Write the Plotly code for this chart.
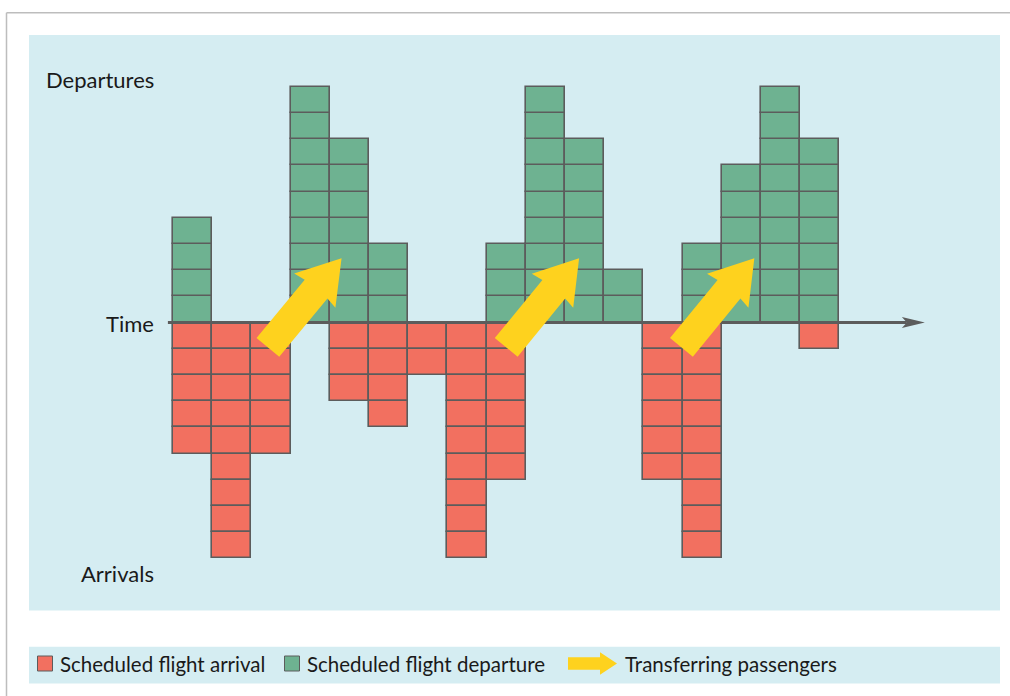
import plotly.graph_objects as go

# ---------------- data ----------------
columns = list(range(17))                     # time slots
departures = [4, 0, 0, 9, 7, 3, 0, 0, 3, 9, 7, 2, 0, 3, 6, 9, 7]
arrivals   = [5, 9, 5, 0, 3, 4, 2, 9, 6, 0, 0, 0, 6, 9, 0, 0, 1]

# transfer arrows (tail -> tip) in data units
arrow_tail_x = [1.92, 8.00, 12.47]
arrow_tail_y = [-0.95, -0.95, -0.95]
arrow_tip_x  = [3.80, 9.86, 14.33]
arrow_tip_y  = [2.45, 2.45, 2.45]

label_departures = "Departures"
label_time = "Time"
label_arrivals = "Arrivals"
legend_labels = ["Scheduled flight arrival", "Scheduled flight departure", "Transferring passengers"]

# ---------------- style ----------------
W, H = 1010, 696
X0, CW = 173.0, 39.2      # px of first column left edge, px per column
Y0, UH = 322.5, 26.2      # px of time axis, px per block
RED = "#F27060"
GREEN = "#6EB291"
BG = "#D5EDF2"
YELLOW = "#FED21E"
EDGE = "#5C5C5C"
TEXT = "#1A1A1A"
FONT = "Lato"

def px_to_dx(px):
    return (px - X0) / CW - 0.5

def py_to_dy(py):
    return (Y0 - py) / UH

def dx_to_px(x):
    return X0 + CW * (x + 0.5)

def dy_to_py(y):
    return Y0 - UH * y

def pxp(px):  # pixel -> paper x
    return px / W

def pyp(py):  # pixel -> paper y
    return 1 - py / H

# ---------------- cells ----------------
dep_x, dep_base = [], []
for c, n in zip(columns, departures):
    for k in range(n):
        dep_x.append(c)
        dep_base.append(k)
arr_x, arr_base = [], []
for c, n in zip(columns, arrivals):
    for k in range(n):
        arr_x.append(c)
        arr_base.append(-(k + 1))

fig = go.Figure()
fig.add_trace(go.Bar(x=arr_x, y=[1] * len(arr_x), base=arr_base, width=1,
                     marker=dict(color=RED, line=dict(color=EDGE, width=1.6)),
                     name=legend_labels[0], showlegend=False, hoverinfo="skip"))
fig.add_trace(go.Bar(x=dep_x, y=[1] * len(dep_x), base=dep_base, width=1,
                     marker=dict(color=GREEN, line=dict(color=EDGE, width=1.6)),
                     name=legend_labels[1], showlegend=False, hoverinfo="skip"))

shapes = []
# frame lines
shapes.append(dict(type="line", xref="paper", yref="paper", x0=pxp(6.5), x1=pxp(W), y0=pyp(12.8), y1=pyp(12.8),
                   line=dict(color="#BDBDBD", width=1.5), layer="below"))
shapes.append(dict(type="line", xref="paper", yref="paper", x0=pxp(6.5), x1=pxp(6.5), y0=pyp(12.8), y1=pyp(H),
                   line=dict(color="#BDBDBD", width=1.5), layer="below"))
# backgrounds
shapes.append(dict(type="rect", xref="paper", yref="paper", x0=pxp(29), x1=pxp(1000), y0=pyp(35), y1=pyp(610.5),
                   fillcolor=BG, line=dict(width=0), layer="below"))
shapes.append(dict(type="rect", xref="paper", yref="paper", x0=pxp(29), x1=pxp(1000), y0=pyp(646.7), y1=pyp(683.5),
                   fillcolor=BG, line=dict(width=0), layer="below"))

# time axis
ax_start = columns[0] - 0.5 - 0.13
ax_tip = columns[-1] + 0.5 + 2.18
tip_px = dx_to_px(ax_tip)
shapes.append(dict(type="line", xref="x", yref="y", x0=ax_start, x1=px_to_dx(tip_px - 18), y0=0, y1=0,
                   line=dict(color=EDGE, width=3), layer="above"))
head = [(tip_px, Y0), (tip_px - 23, Y0 - 5.6), (tip_px - 18, Y0), (tip_px - 23, Y0 + 5.6)]
shapes.append(dict(type="path", xref="x", yref="y",
                   path="M" + " L".join(f"{px_to_dx(a):.4f},{py_to_dy(b):.4f}" for a, b in head) + " Z",
                   fillcolor=EDGE, line=dict(width=0), layer="above"))

# transfer arrows
def arrow_pts(x0, y0, x1, y1, sw=14.75, hw=26.75, hl=40.0):
    ax, ay = x0, y0
    bx, by = x1, y1
    dx, dy = bx - ax, by - ay
    L = (dx * dx + dy * dy) ** 0.5
    ux, uy = dx / L, dy / L
    nx, ny = -uy, ux
    def p(s, t):
        return (ax + ux * s + nx * t, ay + uy * s + ny * t)
    return [p(0, sw), p(L - hl, sw), p(L - hl - 2, hw), p(L, 0),
            p(L - hl - 2, -hw), p(L - hl, -sw), p(0, -sw)]

for tx, ty, hx, hy in zip(arrow_tail_x, arrow_tail_y, arrow_tip_x, arrow_tip_y):
    pts = arrow_pts(dx_to_px(tx), dy_to_py(ty), dx_to_px(hx), dy_to_py(hy))
    path = "M" + " L".join(f"{px_to_dx(a):.4f},{py_to_dy(b):.4f}" for a, b in pts) + " Z"
    shapes.append(dict(type="path", xref="x", yref="y", path=path,
                       fillcolor=YELLOW, line=dict(width=0), layer="above"))

# legend symbols
LY = 663.5
shapes.append(dict(type="rect", xref="paper", yref="paper", x0=pxp(37.5), x1=pxp(52.5), y0=pyp(LY - 7.5), y1=pyp(LY + 7.5),
                   fillcolor=RED, line=dict(color=EDGE, width=1), layer="above"))
shapes.append(dict(type="rect", xref="paper", yref="paper", x0=pxp(284.5), x1=pxp(299.5), y0=pyp(LY - 7.5), y1=pyp(LY + 7.5),
                   fillcolor=GREEN, line=dict(color=EDGE, width=1), layer="above"))
leg_arrow = [(568, LY - 6.3), (600, LY - 6.3), (600, LY - 11.2), (617, LY), (600, LY + 11.2), (600, LY + 6.3), (568, LY + 6.3)]
shapes.append(dict(type="path", xref="paper", yref="paper",
                   path="M" + " L".join(f"{pxp(a):.5f},{pyp(b):.5f}" for a, b in leg_arrow) + " Z",
                   fillcolor=YELLOW, line=dict(width=0), layer="above"))

annotations = []
def txt(s, xpx, ypx, size, anchor):
    annotations.append(dict(text=s, xref="paper", yref="paper", x=pxp(xpx), y=pyp(ypx),
                            xanchor=anchor, yanchor="middle", showarrow=False, borderpad=0,
                            font=dict(family=FONT, size=size, color=TEXT)))

txt(label_departures, 155, 79, 22, "right")
txt(label_time, 155, 323, 22, "right")
txt(label_arrivals, 155, 573, 22, "right")
txt(legend_labels[0], 59, LY + 0.5, 20.5, "left")
txt(legend_labels[1], 306, LY + 0.5, 20.5, "left")
txt(legend_labels[2], 624, LY + 0.5, 20.5, "left")

fig.update_layout(
    width=W, height=H,
    margin=dict(l=0, r=0, t=0, b=0),
    paper_bgcolor="white", plot_bgcolor="rgba(0,0,0,0)",
    barmode="overlay", bargap=0,
    xaxis=dict(range=[px_to_dx(0), px_to_dx(W)], visible=False, fixedrange=True),
    yaxis=dict(range=[py_to_dy(H), py_to_dy(0)], visible=False, fixedrange=True),
    shapes=shapes, annotations=annotations, showlegend=False,
)

fig.write_html("out.html", config={"displayModeBar": False},
               post_script="document.body.style.margin='0';document.body.style.overflow='hidden';")
